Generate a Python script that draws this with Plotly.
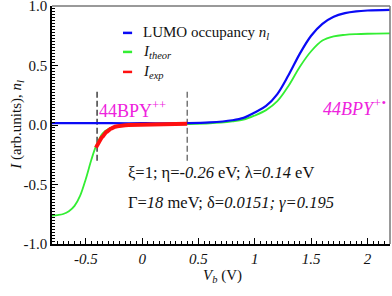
import plotly.graph_objects as go

# ---- data ----
lumo_v = [-0.8, -0.4, 0.0, 0.4, 0.6, 0.8, 0.9, 1.0, 1.1, 1.2, 1.3, 1.4, 1.5, 1.6, 1.7, 1.8, 1.9, 2.0, 2.2]
lumo_n = [0.015, 0.015, 0.015, 0.016, 0.022, 0.04, 0.06, 0.105, 0.16, 0.26, 0.42, 0.60, 0.75, 0.85, 0.91, 0.94, 0.955, 0.962, 0.968]

theor_v = [-0.8, -0.75, -0.7, -0.65, -0.6, -0.55, -0.5, -0.45, -0.41, -0.35, -0.3, -0.2, -0.1, 0.0, 0.2, 0.4,
           0.6, 0.7, 0.8, 0.9, 1.0, 1.1, 1.2, 1.3, 1.4, 1.5, 1.6, 1.7, 1.8, 1.9, 2.0, 2.2]
theor_i = [-0.762, -0.757, -0.748, -0.725, -0.68, -0.594, -0.454, -0.29, -0.18, -0.07, -0.034, -0.008, 0.0, 0.002, 0.004, 0.008,
           0.014, 0.02, 0.03, 0.045, 0.08, 0.125, 0.2, 0.33, 0.49, 0.62, 0.71, 0.745, 0.758, 0.764, 0.767, 0.77]

exp_v = [-0.41, -0.40, -0.39, -0.38, -0.37, -0.36, -0.35, -0.34, -0.33, -0.32, -0.31, -0.30, -0.29, -0.28, -0.27,
         -0.26, -0.25, -0.24, -0.22, -0.20, -0.18, -0.15, -0.12, -0.08, -0.04, 0.0, 0.05, 0.10, 0.15, 0.20, 0.25,
         0.30, 0.35, 0.40]
exp_i = [-0.19, -0.17, -0.16, -0.135, -0.125, -0.105, -0.098, -0.082, -0.072, -0.060, -0.055, -0.045, -0.040,
         -0.031, -0.028, -0.022, -0.019, -0.014, -0.010, -0.006, -0.004, -0.002, 0.000, 0.001, 0.002, 0.002,
         0.003, 0.003, 0.004, 0.005, 0.006, 0.007, 0.008, 0.010]

window_v = [-0.4, 0.4]
window_y = [-0.3, 0.3]

x_ticks = [-0.5, 0, 0.5, 1, 1.5, 2]
x_ticktext = ["-0.5", "0", "0.5", "1", "1.5", "2"]
y_ticks = [-1.0, -0.5, 0.0, 0.5, 1.0]
y_ticktext = ["-1.0", "-0.5", "0.0", "0.5", "1.0"]

FONT = "Liberation Serif, Times New Roman, serif"
BLUE = "#0a0af5"
GREEN = "#33ee33"
RED = "#ff1010"
MAG = "#ee22dd"
TXT = "#111111"

fig = go.Figure()

# dashed window lines
for xv, col in zip(window_v, ["#111111", "#555555"]):
    fig.add_trace(go.Scatter(x=[xv, xv], y=window_y, mode="lines",
                             line=dict(color=col, width=1.2, dash="6px,3px"),
                             showlegend=False, hoverinfo="skip"))

fig.add_trace(go.Scatter(x=theor_v, y=theor_i, mode="lines", line=dict(color=GREEN, width=1.8, shape="spline"),
                         showlegend=False))
fig.add_trace(go.Scatter(x=lumo_v, y=lumo_n, mode="lines", line=dict(color=BLUE, width=2.2, shape="spline"),
                         showlegend=False))
fig.add_trace(go.Scatter(x=exp_v, y=exp_i, mode="lines", line=dict(color=RED, width=4),
                         showlegend=False))

shapes = []
annotations = []

# frame top/right
shapes.append(dict(type="line", xref="paper", yref="paper", x0=0, x1=1, y0=1, y1=1,
                   line=dict(color="#777777", width=1.5)))
shapes.append(dict(type="line", xref="paper", yref="paper", x0=1, x1=1, y0=0, y1=1,
                   line=dict(color="#777777", width=1.5)))

# manual legend
leg_rows = [(0.887, BLUE, "LUMO occupancy <i>n<sub>l</sub></i>"),
            (0.807, GREEN, "<i>I<sub>theor</sub></i>"),
            (0.723, RED, "<i>I<sub>exp</sub></i>")]
for yy, col, txt in leg_rows:
    shapes.append(dict(type="line", xref="paper", yref="paper", x0=0.210, x1=0.237, y0=yy, y1=yy,
                       line=dict(color=col, width=2.5)))
    annotations.append(dict(xref="paper", yref="paper", x=0.262, y=yy, text=txt, showarrow=False,
                            xanchor="left", yanchor="middle", font=dict(family=FONT, size=15, color=TXT)))

annotations += [
    dict(x=-0.40, y=0.02, text="44BPY<sup>++</sup>", showarrow=False, xanchor="left", yanchor="bottom",
         font=dict(family=FONT, size=18, color=MAG)),
    dict(x=1.59, y=0.03, text="<i>44BPY<sup>+•</sup></i>", showarrow=False, xanchor="left", yanchor="bottom",
         font=dict(family=FONT, size=18, color=MAG)),
    dict(x=-0.14, y=-0.395, text="ξ=1; η=<i>-0.26</i> eV; λ=<i>0.14</i> eV", showarrow=False,
         xanchor="left", yanchor="middle", font=dict(family=FONT, size=16.5, color=TXT)),
    dict(x=-0.14, y=-0.655, text="Γ=<i>18</i> meV; δ=<i>0.0151; γ=0.195</i>", showarrow=False,
         xanchor="left", yanchor="middle", font=dict(family=FONT, size=16.5, color=TXT)),
    dict(xref="paper", yref="paper", x=-0.104, y=0.5, text="<i>I</i> (arb.units), <i>n<sub>l</sub></i>",
         textangle=-90, showarrow=False, xanchor="center", yanchor="middle",
         font=dict(family=FONT, size=15, color=TXT)),
    dict(xref="paper", yref="paper", x=0.503, y=-0.09, text="<i>V<sub>b</sub></i> (V)",
         showarrow=False, xanchor="center", yanchor="top",
         font=dict(family=FONT, size=15, color=TXT)),
]

fig.update_layout(
    width=392, height=296,
    margin=dict(l=52, r=2, t=6, b=52, autoexpand=False),
    paper_bgcolor="white", plot_bgcolor="white",
    font=dict(family=FONT, size=15, color=TXT),
    shapes=shapes, annotations=annotations,
    showlegend=False,
)
fig.update_xaxes(range=[-0.8, 2.2], tickvals=x_ticks, ticktext=x_ticktext, automargin=False,
                 ticklabeloverflow="allow",
                 ticks="inside", ticklen=6, tickwidth=1, tickcolor="black",
                 showline=True, linecolor="black", linewidth=1.5, showgrid=False, zeroline=False,
                 tickfont=dict(family=FONT, size=15, color=TXT, style="italic"),
                 minor=dict(ticks="inside", ticklen=3, dtick=0.05, tick0=0, tickcolor="black", showgrid=False))
fig.update_yaxes(range=[-1, 1], tickvals=y_ticks, ticktext=y_ticktext, automargin=False,
                 ticklabeloverflow="allow",
                 ticks="inside", ticklen=6, tickwidth=1, tickcolor="black",
                 showline=True, linecolor="black", linewidth=1.5, showgrid=False, zeroline=False,
                 tickfont=dict(family=FONT, size=15, color=TXT),
                 minor=dict(ticks="inside", ticklen=3, dtick=0.025, tick0=0, tickcolor="black", showgrid=False))

fig.write_html("out.html", config={"displayModeBar": False},
               post_script="document.body.style.margin='0';document.body.style.overflow='hidden';")
